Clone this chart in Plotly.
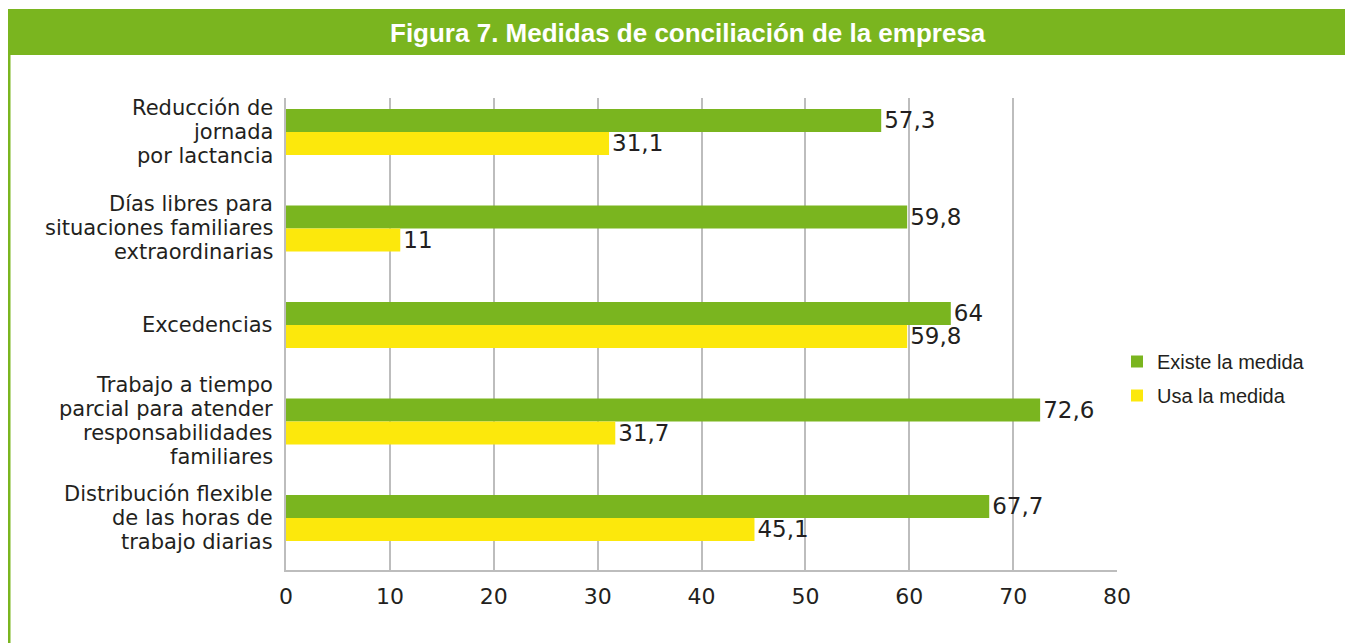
import plotly.graph_objects as go

categories = [
    "Reducción de<br>jornada <br>por lactancia",
    "Días libres para<br>situaciones familiares<br>extraordinarias",
    "Excedencias",
    "Trabajo a tiempo<br>parcial para atender<br>responsabilidades<br>familiares",
    "Distribución flexible<br>de las horas de<br>trabajo diarias",
]
existe = [57.3, 59.8, 64, 72.6, 67.7]
usa = [31.1, 11, 59.8, 31.7, 45.1]
x_ticks = [0, 10, 20, 30, 40, 50, 60, 70, 80]
title = "Figura 7. Medidas de conciliación de la empresa"

GREEN = "#7AB51F"
YELLOW = "#FCE80C"
TXT = "#231F20"
# page body has an 8px margin; compensate so the figure lands at the same pixels
OFF = 8
W, H = 1353 - OFF, 643 - OFF


def px(x):
    return (x - OFF) / W


def py(y):
    return 1 - (y - OFF) / H


def fmt(v):
    return ("%g" % v).replace(".", ",")


LBL_FONT = "DejaVu Sans, Liberation Sans, sans-serif"

fig = go.Figure()
fig.add_trace(go.Bar(y=list(range(len(categories))), x=existe, orientation="h", name="Existe la medida",
                     legendgroup="a",
                     marker=dict(color=GREEN, line=dict(width=0)),
                     text=[fmt(v) for v in existe], textposition="outside", constraintext="none",
                     textfont=dict(size=23, color=TXT, family=LBL_FONT), cliponaxis=False))
fig.add_trace(go.Bar(y=list(range(len(categories))), x=usa, orientation="h", name="Usa la medida",
                     legendgroup="b",
                     marker=dict(color=YELLOW, line=dict(width=0)),
                     text=[fmt(v) for v in usa], textposition="outside", constraintext="none",
                     textfont=dict(size=23, color=TXT, family=LBL_FONT), cliponaxis=False))

annotations = [
    dict(text="<b>" + title + "</b>", xref="paper", yref="paper",
         x=px(688), y=py(33), xanchor="center", yanchor="middle", showarrow=False,
         font=dict(size=26, color="white", family="Liberation Sans, Arial, sans-serif")),
]
LINE = 24
for i, cat in enumerate(categories):
    lines = [s.strip() for s in cat.split("<br>")]
    n = len(lines)
    for k, ln in enumerate(lines):
        off = (k - (n - 1) / 2) * LINE
        annotations.append(dict(text=ln, xref="paper", yref="y", x=px(275), y=i,
                                xanchor="right", yanchor="middle", yshift=-off,
                                showarrow=False,
                                font=dict(size=21, color=TXT, family=LBL_FONT)))

fig.update_layout(
    width=W, height=H,
    margin=dict(l=0, r=0, t=0, b=0),
    paper_bgcolor="white", plot_bgcolor="white",
    font=dict(family="Liberation Sans, Arial, sans-serif", size=20, color=TXT),
    barmode="group", bargap=0.523, bargroupgap=0,
    xaxis=dict(domain=[px(286), px(1117)], range=[0, 80], tickvals=x_ticks,
               showgrid=True, gridcolor="#BDBDBD", gridwidth=1.5,
               showline=True, linecolor="#BDBDBD", linewidth=1.5,
               zeroline=False, ticks="", ticklen=0, automargin=False,
               ticklabelstandoff=6,
               tickfont=dict(size=22, color=TXT, family=LBL_FONT)),
    yaxis=dict(domain=[py(570), py(98)], type="linear",
               range=[4.54, -0.352], showgrid=False, zeroline=False,
               showline=True, linecolor="#BDBDBD", linewidth=1.5,
               ticks="", automargin=False, showticklabels=False),
    legend=dict(x=px(1117), y=py(342), xanchor="left", yanchor="top",
                font=dict(size=20, color=TXT), bgcolor="rgba(0,0,0,0)",
                traceorder="grouped", tracegroupgap=5),
    showlegend=True,
    shapes=[
        dict(type="rect", xref="paper", yref="paper", x0=px(7), x1=1.01, y0=py(55), y1=py(9),
             fillcolor=GREEN, line=dict(width=0), layer="below"),
        dict(type="line", xref="paper", yref="paper", x0=px(9), x1=px(9), y0=-0.02, y1=py(55),
             line=dict(color=GREEN, width=3)),
    ],
    annotations=annotations,
)

fig.write_html("out.html")
